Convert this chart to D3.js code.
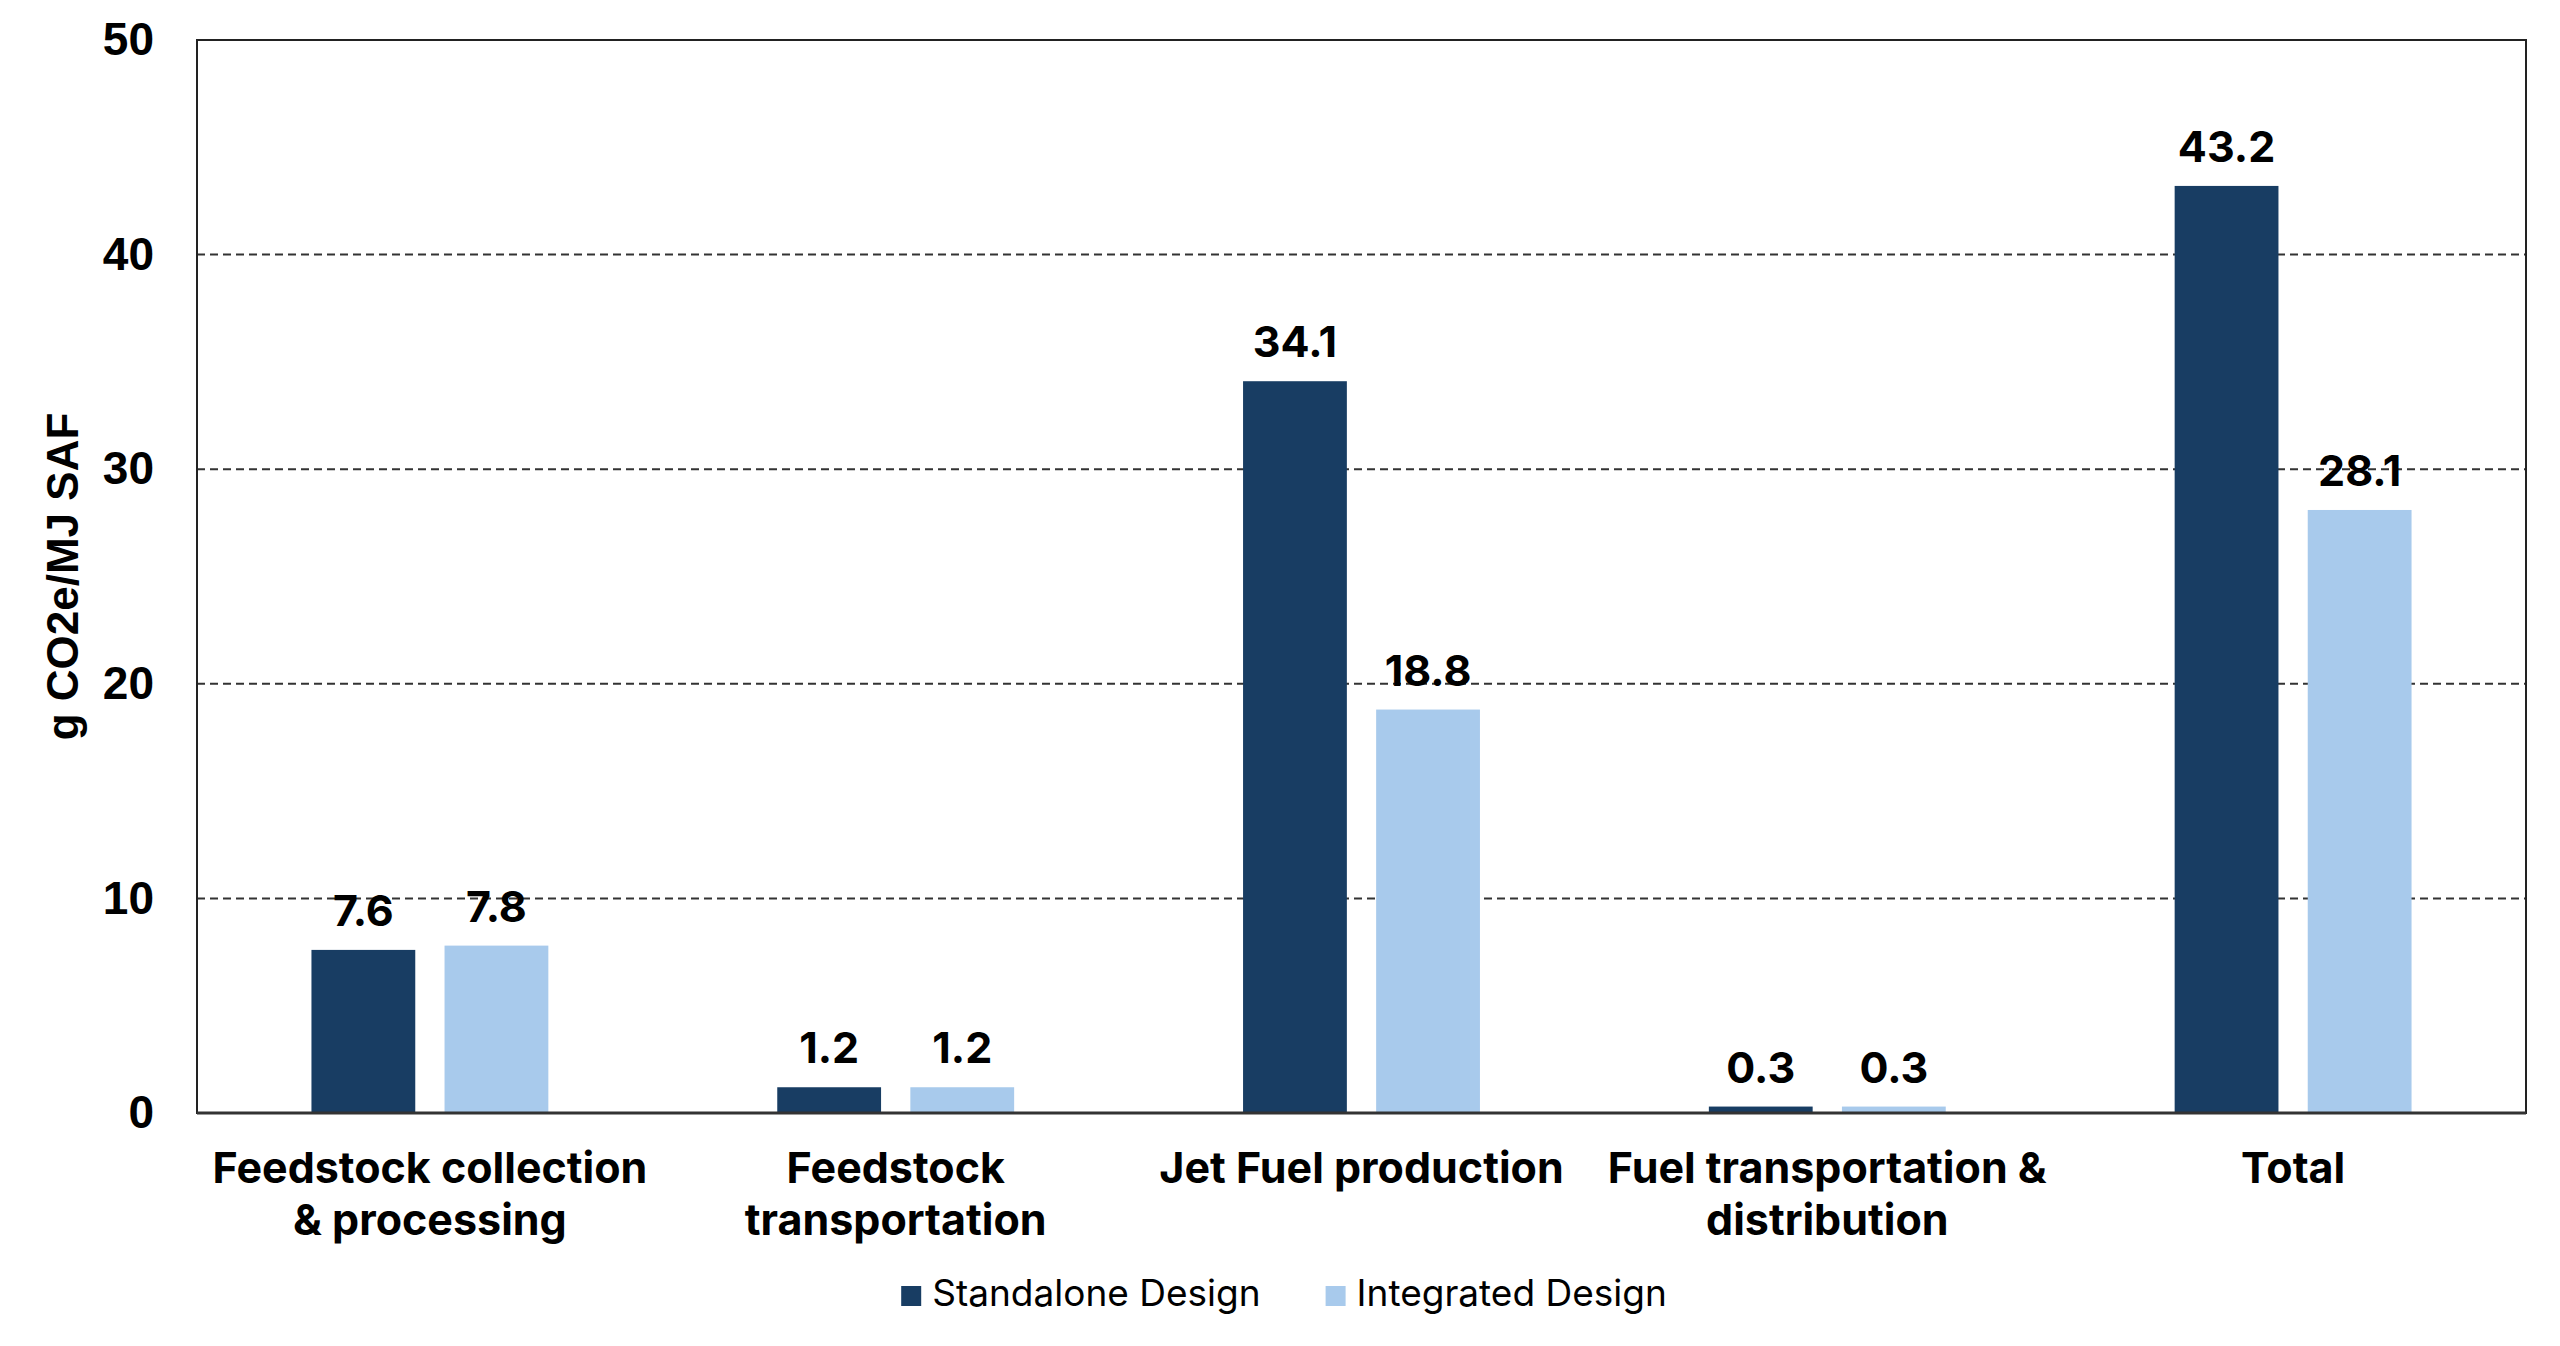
<!DOCTYPE html>
<html>
<head>
<meta charset="utf-8">
<script src="https://cdn.jsdelivr.net/npm/d3@7"></script>
<style>
  body { margin: 0; background: #fff; }
  svg { display: block; }
</style>
</head>
<body>
<div id="chart"></div>
<script>
const categories = [
  ['Feedstock collection', '& processing'],
  ['Feedstock', 'transportation'],
  ['Jet Fuel production'],
  ['Fuel transportation &', 'distribution'],
  ['Total']
];
const seriesNames = ['Standalone Design', 'Integrated Design'];
const standalone = [7.6, 1.2, 34.1, 0.3, 43.2];
const integrated = [7.8, 1.2, 18.8, 0.3, 28.1];
const yTicks = [0, 10, 20, 30, 40, 50];
const colors = ['#183d63', '#a8caec'];

const W = 2560, H = 1346;
const margin = { top: 40, right: 34, bottom: 233, left: 197 };
const width = W - margin.left - margin.right;
const height = H - margin.top - margin.bottom;

const svg = d3.select('#chart')
  .append('svg')
  .attr('width', W)
  .attr('height', H);

const g = svg.append('g')
  .attr('transform', `translate(${margin.left},${margin.top})`);

const catKeys = categories.map(c => c.join(' '));

const x = d3.scaleBand()
  .domain(catKeys)
  .range([0, width])
  .padding(0);

const xSub = d3.scaleBand()
  .domain(seriesNames)
  .range([0, x.bandwidth()])
  .paddingInner(0.22)
  .paddingOuter(0.86);

const y = d3.scaleLinear()
  .domain([0, 50])
  .range([height, 0]);

// dashed gridlines
g.append('g')
  .selectAll('line')
  .data(yTicks.filter(t => t > 0 && t < 50))
  .enter()
  .append('line')
  .attr('x1', 0)
  .attr('x2', width)
  .attr('y1', d => y(d))
  .attr('y2', d => y(d))
  .attr('stroke', '#333')
  .attr('stroke-width', 2)
  .attr('stroke-dasharray', '8,5');

// y axis tick labels
const yAxis = g.append('g')
  .call(d3.axisLeft(y).tickValues(yTicks).tickSize(0).tickPadding(43));
yAxis.select('.domain').remove();
yAxis.selectAll('text')
  .style('font-family', '"Liberation Sans", Arial, sans-serif')
  .style('font-weight', 'bold')
  .style('font-size', '46px')
  .attr('fill', '#000');

// bars
const rows = catKeys.map((k, i) => ({
  key: k,
  values: [
    { series: seriesNames[0], value: standalone[i], color: colors[0] },
    { series: seriesNames[1], value: integrated[i], color: colors[1] }
  ]
}));

const groups = g.selectAll('.grp')
  .data(rows)
  .enter()
  .append('g')
  .attr('class', 'grp')
  .attr('transform', d => `translate(${x(d.key)},0)`);

groups.selectAll('rect')
  .data(d => d.values)
  .enter()
  .append('rect')
  .attr('x', d => xSub(d.series))
  .attr('width', xSub.bandwidth())
  .attr('y', d => y(d.value))
  .attr('height', d => height - y(d.value))
  .attr('fill', d => d.color);

groups.selectAll('.val')
  .data(d => d.values)
  .enter()
  .append('text')
  .attr('class', 'val')
  .attr('x', d => xSub(d.series) + xSub.bandwidth() / 2)
  .attr('y', d => y(d.value) - 24)
  .attr('text-anchor', 'middle')
  .style('font-family', 'Inter, sans-serif')
  .style('font-weight', 'bold')
  .style('font-size', '43px')
  .attr('fill', '#000')
  .text(d => d.value.toFixed(1));

// plot frame
g.append('rect')
  .attr('x', 0)
  .attr('y', 0)
  .attr('width', width)
  .attr('height', height)
  .attr('fill', 'none')
  .attr('stroke', '#222')
  .attr('stroke-width', 2);

g.append('line')
  .attr('x1', 0)
  .attr('x2', width)
  .attr('y1', height)
  .attr('y2', height)
  .attr('stroke', '#333')
  .attr('stroke-width', 3);

// category labels
const catLabels = g.append('g')
  .selectAll('text')
  .data(categories)
  .enter()
  .append('text')
  .attr('text-anchor', 'middle')
  .attr('x', (d, i) => x(catKeys[i]) + x.bandwidth() / 2)
  .attr('y', height + 70)
  .style('font-family', 'Inter, sans-serif')
  .style('font-weight', 'bold')
  .style('font-size', '43px')
  .attr('fill', '#000');

catLabels.selectAll('tspan')
  .data(d => d)
  .enter()
  .append('tspan')
  .attr('x', function () { return d3.select(this.parentNode).attr('x'); })
  .attr('dy', (d, i) => i === 0 ? 0 : 52)
  .text(d => d);

// y axis title
svg.append('text')
  .attr('transform', `translate(78,${margin.top + height / 2}) rotate(-90)`)
  .attr('text-anchor', 'middle')
  .style('font-family', '"Liberation Sans", Arial, sans-serif')
  .style('font-weight', 'bold')
  .style('font-size', '44px')
  .attr('fill', '#000')
  .text('g CO2e/MJ SAF');

// legend
const legend = svg.append('g');
const items = legend.selectAll('g')
  .data(seriesNames)
  .enter()
  .append('g');

items.append('rect')
  .attr('width', 20)
  .attr('height', 20)
  .attr('y', -20)
  .attr('fill', (d, i) => colors[i]);

items.append('text')
  .attr('x', 31)
  .attr('y', 0)
  .style('font-family', 'Inter, sans-serif')
  .style('font-size', '37px')
  .attr('fill', '#000')
  .text(d => d);

let offset = 0;
items.each(function () {
  d3.select(this).attr('transform', `translate(${offset},0)`);
  offset += this.getBBox().width + 65;
});
const legendWidth = offset - 65;
legend.attr('transform', `translate(${W / 2 - legendWidth / 2 + 4},1306)`);
</script>
</body>
</html>
